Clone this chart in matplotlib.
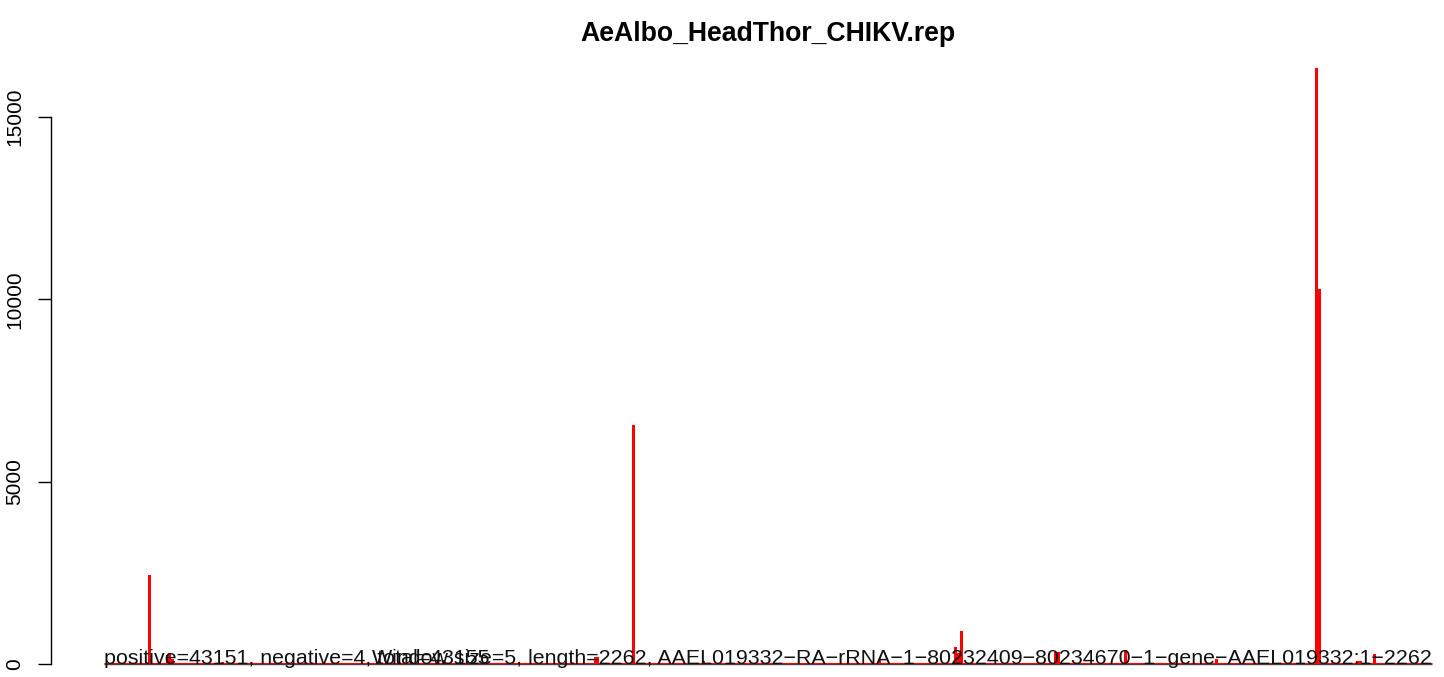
import numpy as np
import matplotlib
matplotlib.use("Agg")
import matplotlib.pyplot as plt
import matplotlib.transforms as mtransforms

plt.rcParams['font.family'] = ['Liberation Sans', 'DejaVu Sans']

# ---- data ----
title = "AeAlbo_HeadThor_CHIKV.rep"
n_windows = 453
window_index = [15, 21, 22, 23, 40, 83, 141, 143, 158, 167, 168, 180, 191, 204, 214,
                235, 264, 272, 290, 291, 292, 324, 325, 338, 348, 379, 413, 414,
                417, 427, 428, 433]
positive_values = [2440, 250, 300, 150, 50, 40, 40, 40, 40, 180, 180, 6550, 40, 80, 40,
                   40, 140, 40, 470, 300, 900, 330, 330, 40, 380, 140, 16340, 10280,
                   40, 90, 90, 270]
yticks = [0, 5000, 10000, 15000]
left_text = "positive=43151, negative=4, total=43155"
right_text = ("Window size=5, length=2262, AAEL019332\u2212RA\u2212rRNA\u22121\u221280232409"
              "\u221280234670\u22121\u2212gene\u2212AAEL019332:1\u22122262")

cov = np.zeros(n_windows)
cov[window_index] = positive_values

W, H = 1444, 677
fig = plt.figure(figsize=(W / 100, H / 100), dpi=100)

# pixel layout
ax_left_px, ax_top_px = 50.6, 42
ax = fig.add_axes([ax_left_px / W, 0, (W - ax_left_px) / W, (H - ax_top_px) / H])

k = (664 - 117) / 15000.0  # px per unit
ax.set_ylim(-(H - 664) / k, (664 - ax_top_px) / k)
pxw = (1432 - 104) / n_windows
ax.set_xlim(-(104 - ax_left_px) / pxw, (W - 104) / pxw)

x = np.arange(n_windows)
ax.bar(x, cov, width=1.0, align='edge', color='#FF0000', linewidth=0)

# baseline lines
ax.plot([0, n_windows], [0, 0], color='#444444', lw=1.0, solid_capstyle='butt', zorder=1)
off = mtransforms.ScaledTranslation(0, 1 / 100, fig.dpi_scale_trans)
ax.plot([0, n_windows], [0, 0], color='#FF0000', lw=0.8, solid_capstyle='butt',
        transform=ax.transData + off, zorder=1)

for s in ['top', 'right', 'bottom']:
    ax.spines[s].set_visible(False)
ax.spines['left'].set_bounds(0, 15000)
ax.spines['left'].set_linewidth(1.0)
ax.set_xticks([])
ax.set_yticks(yticks)
ax.set_yticklabels([str(t) for t in yticks])
ax.tick_params(axis='y', length=9.4, width=1.0, pad=9.5, labelsize=15, direction='out')
for lab in ax.get_yticklabels():
    lab.set_rotation(90)
    lab.set_va('center')
    lab.set_ha('right')

ax.text(0, 0, left_text, ha='left', va='baseline', fontsize=15.4, color='#111111', zorder=5)
ax.text(n_windows, 0, right_text, ha='right', va='baseline', fontsize=15.4, color='#111111', zorder=5)

fig.text(768 / W, 1 - 41 / H, title, ha='center', va='baseline', fontsize=19.2,
         fontweight='bold')

fig.savefig('out.png', dpi=100)
